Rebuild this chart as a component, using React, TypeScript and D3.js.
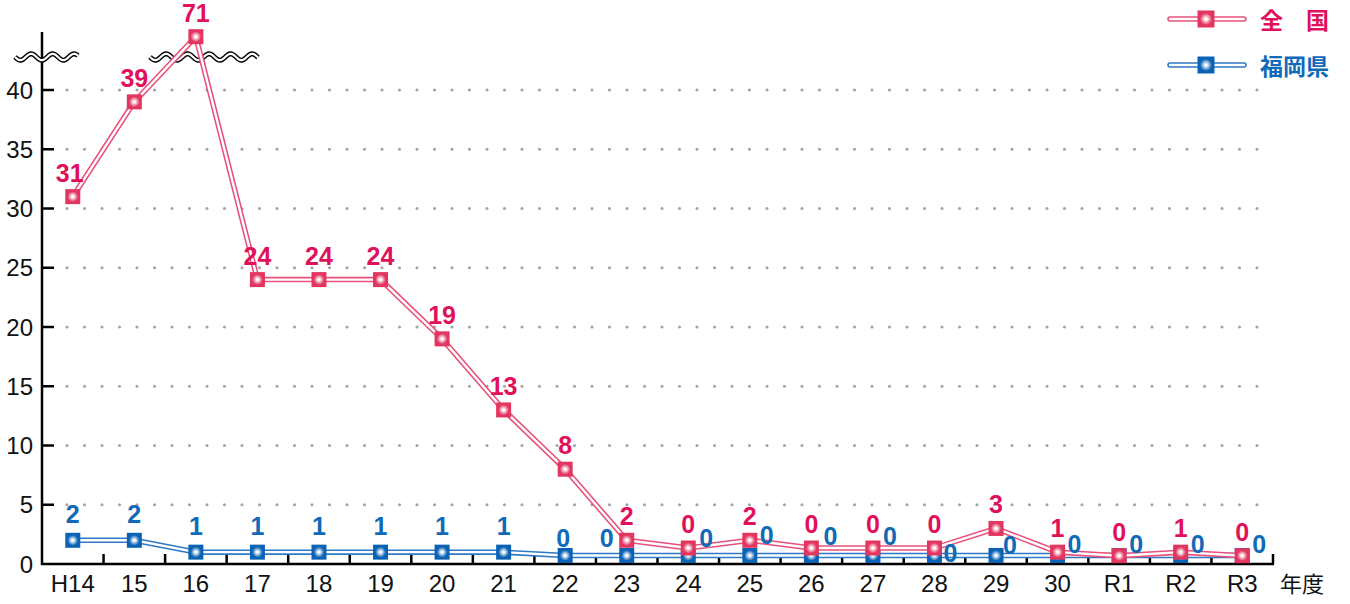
import React, { useEffect, useRef } from 'react';
import * as d3 from 'd3';

// 年度
const categories = ['H14', '15', '16', '17', '18', '19', '20', '21', '22', '23', '24', '25', '26', '27', '28', '29', '30', 'R1', 'R2', 'R3'];

// 全国: labels as printed, plotted = where the marker sits (71 is drawn above the axis break)
const zenkokuLabels = [31, 39, 71, 24, 24, 24, 19, 13, 8, 2, 0, 2, 0, 0, 0, 3, 1, 0, 1, 0];
const zenkokuPlotted = [31, 39, 44.5, 24, 24, 24, 19, 13, 8, 2, 1.35, 2, 1.35, 1.35, 1.35, 3, 1, 0.7, 1, 0.7];

// 福岡県
const fukuokaLabels = [2, 2, 1, 1, 1, 1, 1, 1, 0, 0, 0, 0, 0, 0, 0, 0, 0, 0, 0, 0];
const fukuokaPlotted = [2, 2, 1, 1, 1, 1, 1, 1, 0.72, 0.72, 0.72, 0.72, 0.72, 0.72, 0.72, 0.72, 0.72, 0.72, 0.72, 0.72];

const yTicks = [0, 5, 10, 15, 20, 25, 30, 35, 40];

const PINK = '#e2355f';
const PINK_LINE = '#e8507a';
const PINK_TEXT = '#e0105a';
const BLUE = '#0a62b4';
const BLUE_LINE = '#2f78c4';
const BLUE_TEXT = '#106ab8';

// label offsets for 福岡県 (they dodge the pink markers)
const blueLabelOffsets: [number, number][] = [
  [0, -26], [0, -26], [0, -26], [0, -26], [0, -26], [0, -26], [0, -26], [0, -26],
  [-2, -17], [-20, -17], [18, -17], [17, -20], [19, -19], [17, -19], [16, -2],
  [14, -10], [17, -11], [17, -11], [17, -11], [17, -11],
];

const FONT = '"Liberation Sans", Arial, Helvetica, sans-serif';
const JP_FONT = '"Noto Sans CJK JP", "Liberation Sans", sans-serif';

const App = () => {
  const svgRef = useRef<SVGSVGElement | null>(null);

  useEffect(() => {
    const width = 1350;
    const height = 604;
    const left = 42;
    const right = 1273;
    const bottom = 564;

    const svg = d3.select(svgRef.current);
    svg.selectAll('*').remove();

    const x = d3.scaleBand<string>().domain(categories).range([left, right]);
    const y = d3.scaleLinear().domain([0, 40]).range([bottom, 90]);
    const cx = (c: string) => (x(c) ?? 0) + x.bandwidth() / 2;

    // marker gradients
    const defs = svg.append('defs');
    const grad = (id: string, color: string) => {
      const g = defs.append('radialGradient').attr('id', id).attr('cx', '50%').attr('cy', '50%').attr('r', '50%');
      g.append('stop').attr('offset', '0%').attr('stop-color', '#ffffff');
      g.append('stop').attr('offset', '12%').attr('stop-color', '#ffffff').attr('stop-opacity', 0.95);
      g.append('stop').attr('offset', '70%').attr('stop-color', color);
      g.append('stop').attr('offset', '100%').attr('stop-color', color);
    };
    grad('g-pink', PINK);
    grad('g-blue', BLUE);

    svg.append('rect').attr('width', width).attr('height', height).attr('fill', '#fff');

    // dotted grid
    svg.append('g')
      .selectAll('line')
      .data(yTicks.filter(t => t > 0))
      .join('line')
      .attr('x1', 67)
      .attr('x2', right)
      .attr('y1', d => y(d))
      .attr('y2', d => y(d))
      .attr('stroke', '#a6a6a6')
      .attr('stroke-width', 3.2)
      .attr('stroke-linecap', 'round')
      .attr('stroke-dasharray', '0 17.5');

    // y axis
    svg.append('line')
      .attr('x1', left).attr('x2', left)
      .attr('y1', 32).attr('y2', bottom + 1)
      .attr('stroke', '#000').attr('stroke-width', 2.5);

    svg.append('g')
      .selectAll('line')
      .data(yTicks.filter(t => t > 0))
      .join('line')
      .attr('x1', left).attr('x2', 54)
      .attr('y1', d => y(d)).attr('y2', d => y(d))
      .attr('stroke', '#000').attr('stroke-width', 2.5);

    svg.append('g')
      .selectAll('text')
      .data(yTicks)
      .join('text')
      .attr('x', 33)
      .attr('y', d => y(d))
      .attr('text-anchor', 'end')
      .attr('dominant-baseline', 'central')
      .attr('font-family', FONT)
      .attr('font-size', 24)
      .attr('fill', '#111')
      .text(d => d);

    // x axis
    svg.append('line')
      .attr('x1', left - 1).attr('x2', right + 1)
      .attr('y1', bottom).attr('y2', bottom)
      .attr('stroke', '#000').attr('stroke-width', 2.5);

    svg.append('g')
      .selectAll('line')
      .data(categories.slice(1).concat(['__end']))
      .join('line')
      .attr('x1', d => (d === '__end' ? right : x(d) ?? 0))
      .attr('x2', d => (d === '__end' ? right : x(d) ?? 0))
      .attr('y1', bottom)
      .attr('y2', bottom - 10)
      .attr('stroke', '#000').attr('stroke-width', 2.5);

    svg.append('g')
      .selectAll('text')
      .data(categories)
      .join('text')
      .attr('x', d => cx(d))
      .attr('y', 583)
      .attr('text-anchor', 'middle')
      .attr('dominant-baseline', 'central')
      .attr('font-family', FONT)
      .attr('font-size', 24)
      .attr('fill', '#111')
      .text(d => d);

    svg.append('text')
      .attr('x', 1302).attr('y', 582)
      .attr('text-anchor', 'middle')
      .attr('dominant-baseline', 'central')
      .attr('font-family', JP_FONT)
      .attr('font-size', 22)
      .attr('fill', '#111')
      .text('年度');

    // axis break waves
    const wave = (x0: number, x1: number, yc: number) => {
      const pts: [number, number][] = [];
      for (let px = x0; px <= x1; px += 1) {
        pts.push([px, yc + 3.2 * Math.sin(((px - x0) / 21.5) * 2 * Math.PI)]);
      }
      const line = d3.line();
      svg.append('path').attr('d', line(pts)).attr('fill', 'none').attr('stroke', '#000').attr('stroke-width', 5);
      svg.append('path').attr('d', line(pts)).attr('fill', 'none').attr('stroke', '#fff').attr('stroke-width', 2.2);
    };
    wave(15, 78, 57);
    wave(150, 258, 57);

    // series
    const drawSeries = (plotted: number[], color: string, lineColor: string, gradId: string) => {
      const pts: [number, number][] = plotted.map((v, i) => [cx(categories[i]), y(v)]);
      const line = d3.line();
      const g = svg.append('g');
      g.append('path').attr('d', line(pts)).attr('fill', 'none').attr('stroke', lineColor)
        .attr('stroke-width', 5.5).attr('stroke-linejoin', 'round');
      g.append('path').attr('d', line(pts)).attr('fill', 'none').attr('stroke', '#fff')
        .attr('stroke-width', 2.4).attr('stroke-linejoin', 'round');
      g.selectAll('rect')
        .data(pts)
        .join('rect')
        .attr('x', d => d[0] - 7.5)
        .attr('y', d => d[1] - 7.5)
        .attr('width', 15)
        .attr('height', 15)
        .attr('fill', `url(#${gradId})`);
    };
    drawSeries(fukuokaPlotted, BLUE, BLUE_LINE, 'g-blue');
    drawSeries(zenkokuPlotted, PINK, PINK_LINE, 'g-pink');

    // data labels
    svg.append('g')
      .selectAll('text')
      .data(fukuokaLabels)
      .join('text')
      .attr('x', (d, i) => cx(categories[i]) + blueLabelOffsets[i][0])
      .attr('y', (d, i) => y(fukuokaPlotted[i]) + blueLabelOffsets[i][1])
      .attr('text-anchor', 'middle')
      .attr('dominant-baseline', 'central')
      .attr('font-family', FONT)
      .attr('font-weight', 'bold')
      .attr('font-size', 25)
      .attr('fill', BLUE_TEXT)
      .text(d => d);

    svg.append('g')
      .selectAll('text')
      .data(zenkokuLabels)
      .join('text')
      .attr('x', (d, i) => cx(categories[i]) + (i === 0 ? -3 : 0))
      .attr('y', (d, i) => y(zenkokuPlotted[i]) - 24)
      .attr('text-anchor', 'middle')
      .attr('dominant-baseline', 'central')
      .attr('font-family', FONT)
      .attr('font-weight', 'bold')
      .attr('font-size', 25)
      .attr('fill', PINK_TEXT)
      .text(d => d);

    // legend
    const legend = [
      { name: '全　国', color: PINK, line: PINK_LINE, text: PINK_TEXT, grad: 'g-pink', y: 19 },
      { name: '福岡県', color: BLUE, line: BLUE_LINE, text: BLUE_TEXT, grad: 'g-blue', y: 65 },
    ];
    const lg = svg.append('g');
    legend.forEach(l => {
      lg.append('line').attr('x1', 1170).attr('x2', 1244).attr('y1', l.y).attr('y2', l.y)
        .attr('stroke', l.line).attr('stroke-width', 5.5).attr('stroke-linecap', 'round');
      lg.append('line').attr('x1', 1170).attr('x2', 1244).attr('y1', l.y).attr('y2', l.y)
        .attr('stroke', '#fff').attr('stroke-width', 2.4).attr('stroke-linecap', 'round');
      lg.append('rect').attr('x', 1197.5).attr('y', l.y - 8.5).attr('width', 17).attr('height', 17)
        .attr('fill', `url(#${l.grad})`);
      lg.append('text').attr('x', 1260).attr('y', l.y)
        .attr('dominant-baseline', 'central')
        .attr('font-family', JP_FONT)
        .attr('font-weight', 'bold')
        .attr('font-size', 23)
        .attr('fill', l.text)
        .text(l.name);
    });
  }, []);

  return (
    <svg
      ref={svgRef}
      width={1350}
      height={604}
      style={{ position: 'absolute', left: 0, top: 0, display: 'block' }}
    />
  );
};

export default App;
